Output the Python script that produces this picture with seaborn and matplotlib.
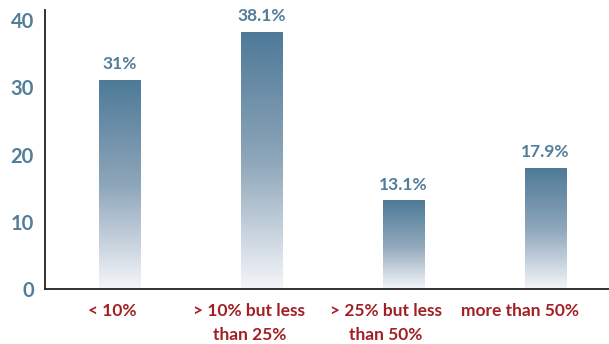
import matplotlib
matplotlib.use("Agg")
import matplotlib.pyplot as plt
import seaborn as sns
import numpy as np
import pandas as pd
from matplotlib.colors import LinearSegmentedColormap

categories = ["< 10%", "> 10% but less\nthan 25%", "> 25% but less\nthan 50%", "more than 50%"]
values = [31.0, 38.1, 13.1, 17.9]
value_labels = ["31%", "38.1%", "13.1%", "17.9%"]
yticks = [0, 10, 20, 30, 40]

BLUE = "#527d9b"
RED = "#a31f26"

sns.set_style("white")
plt.rcParams["font.family"] = ["Lato", "DejaVu Sans"]

fig = plt.figure(figsize=(6.09, 3.44), dpi=100)
ax = fig.add_axes([0.074, 0.160, 0.926, 0.811])

df = pd.DataFrame({"cat": categories, "val": values})
sns.barplot(data=df, x="cat", y="val", order=categories, color=BLUE, width=0.29, ax=ax)

cmap = LinearSegmentedColormap.from_list("g", ["#f4f6f9", "#8ea6ba", "#4e7a98"])
grad = np.linspace(0, 1, 256).reshape(-1, 1)
for p, lab in zip(ax.patches, value_labels):
    x0 = p.get_x(); w = p.get_width(); h = p.get_height()
    p.set_visible(False)
    ax.imshow(grad, cmap=cmap, aspect="auto", origin="lower",
              extent=(x0, x0 + w, 0, h), zorder=2, interpolation="bilinear")
    ax.annotate(lab, (x0 + w / 2, h), xytext=(0, 6), textcoords="offset points",
                ha="center", va="bottom", color=BLUE, fontsize=12.5, fontweight="bold")

ax.set_xlim(-0.525, 3.45)
ax.set_ylim(0, 41.5)
ax.set_yticks(yticks)
ax.set_yticklabels([str(t) for t in yticks])
# category labels sit slightly left of the bar centres in the reference
ax.set_xticks([-0.05, 0.915, 1.877, 2.82])
ax.set_xticklabels(categories)
ax.set_xlabel("")
ax.set_ylabel("")
ax.tick_params(axis="y", length=0, pad=8, labelsize=14.5, labelcolor=BLUE)
ax.tick_params(axis="x", length=0, pad=10, labelsize=12.5, labelcolor=RED)
for t in ax.get_yticklabels():
    t.set_fontweight("bold")
for t in ax.get_xticklabels():
    t.set_fontweight("bold")
    t.set_linespacing(1.6)

for s in ["top", "right"]:
    ax.spines[s].set_visible(False)
for s in ["left", "bottom"]:
    ax.spines[s].set_color("#222222")
    ax.spines[s].set_linewidth(1.3)

fig.savefig("out.png", dpi=100)
